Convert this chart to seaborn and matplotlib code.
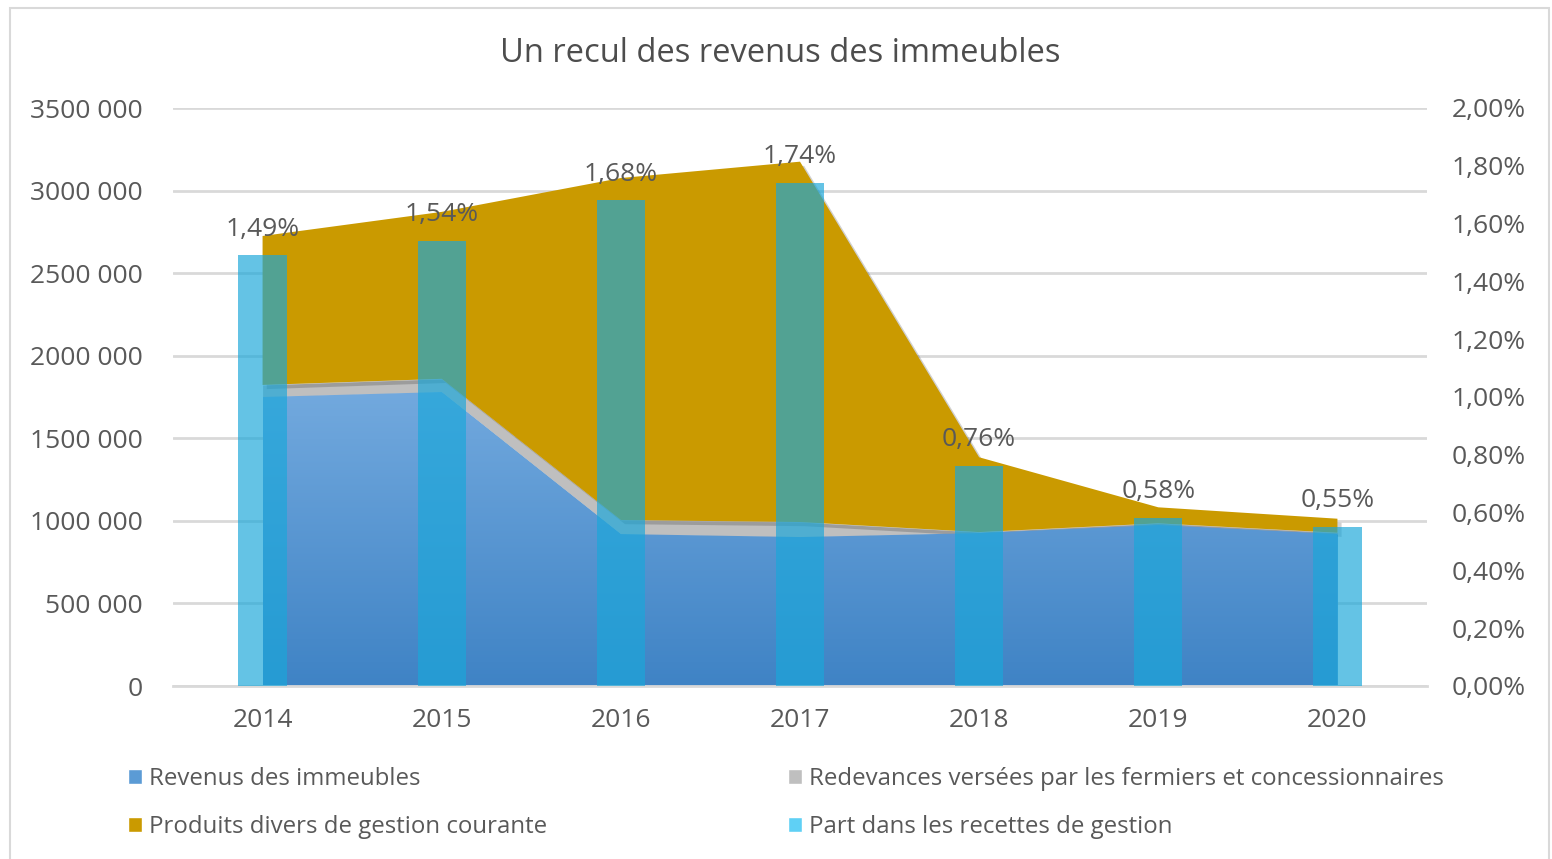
import numpy as np
import matplotlib
matplotlib.use("Agg")
import matplotlib.pyplot as plt
import matplotlib.patheffects as pe
from matplotlib.patches import Rectangle, Patch
from matplotlib.ticker import FuncFormatter, MultipleLocator
import seaborn as sns

# ---- data ----
years = ["2014", "2015", "2016", "2017", "2018", "2019", "2020"]
revenus_immeubles = [1750000, 1780000, 920000, 902000, 926000, 975000, 920000]
redevances = [73000, 80000, 85000, 91000, 6000, 10000, 8000]
produits_divers = [902000, 1011000, 2071000, 2182000, 453000, 97000, 85000]
part_recettes = [1.49, 1.54, 1.68, 1.74, 0.76, 0.58, 0.55]  # in %
part_labels = ["1,49%", "1,54%", "1,68%", "1,74%", "0,76%", "0,58%", "0,55%"]

series_names = ["Revenus des immeubles",
                "Redevances versées par les fermiers et concessionnaires",
                "Produits divers de gestion courante",
                "Part dans les recettes de gestion"]

C_BLUE = "#5B9BD5"
C_GREY = "#BFBFBF"
C_GOLD = "#CA9A00"
C_BAR = "#1AA7DA"
C_TEXT = "#595959"
C_GRID = "#D9D9D9"

sns.set_theme(style="white")
plt.rcParams["font.family"] = ["Open Sans", "DejaVu Sans"]

W, H = 1552, 859
fig = plt.figure(figsize=(W / 100, H / 100), dpi=100)
fig.patch.set_facecolor("white")

ax = fig.add_axes([173 / W, 1 - 686 / H, (1427 - 173) / W, (686 - 108) / H])
ax2 = ax.twinx()

x = np.arange(len(years))

# stacked areas
polys = ax.stackplot(x, revenus_immeubles, redevances, produits_divers,
                     colors=[C_BLUE, C_GREY, C_GOLD], linewidth=0, zorder=2)
polys[2].set_path_effects([pe.SimplePatchShadow(offset=(3, -3), alpha=0.18,
                                                shadow_rgbFace="black"), pe.Normal()])

# gradient on the blue area
top = max(revenus_immeubles)
grad = np.linspace(0, 1, 256).reshape(-1, 1)
cmap = matplotlib.colors.LinearSegmentedColormap.from_list("bl", ["#3F83C5", "#72A9DE"])
im = ax.imshow(grad, extent=[0, len(years) - 1, 0, top], origin="lower",
               aspect="auto", cmap=cmap, zorder=2.5)
im.set_clip_path(polys[0].get_paths()[0], ax.transData)

ax.set_xlim(-0.5, len(years) - 0.5)
ax.set_ylim(0, 3500000)
ax.yaxis.set_major_locator(MultipleLocator(500000))
ax.yaxis.set_major_formatter(FuncFormatter(
    lambda v, p: "0" if v == 0 else f"{int(v // 1000)} 000"))
ax.grid(axis="y", color=C_GRID, linewidth=2)
ax.grid(axis="x", visible=False)
ax.set_axisbelow(True)
for s in ["top", "right", "left"]:
    ax.spines[s].set_visible(False)
ax.spines["bottom"].set_color(C_GRID)
ax.spines["bottom"].set_linewidth(2)
ax.tick_params(axis="y", length=0, pad=22, labelsize=19, labelcolor=C_TEXT)
ax.tick_params(axis="x", length=0, pad=16, labelsize=19, labelcolor=C_TEXT)

# bars on secondary axis
sns.barplot(x=years, y=part_recettes, ax=ax2, color=C_BAR, alpha=0.68,
            width=0.27, saturation=1, linewidth=0, zorder=3)
ax2.set_ylim(0, 2.0)
ax2.set_xlim(-0.5, len(years) - 0.5)
ax2.yaxis.set_major_locator(MultipleLocator(0.2))
ax2.yaxis.set_major_formatter(FuncFormatter(lambda v, p: f"{v:.2f}%".replace(".", ",")))
ax2.tick_params(axis="y", length=0, pad=18, labelsize=19, labelcolor=C_TEXT)
for s in ["top", "right", "left", "bottom"]:
    ax2.spines[s].set_visible(False)
ax2.set_ylabel("")
ax2.set_xlabel("")
ax2.grid(False)
ax.set_xticks(x)
ax.set_xticklabels(years)

for xi, v, lab in zip(x, part_recettes, part_labels):
    ax2.annotate(lab, (xi, v), xytext=(0, 19), textcoords="offset points",
                 ha="center", va="center", fontsize=19, color=C_TEXT, zorder=5)

# title
fig.text(780 / W, 1 - 53 / H, "Un recul des revenus des immeubles",
         ha="center", va="center", fontsize=23.5, color="#4D4D4D")

# legends
handles = [Patch(facecolor=C_BLUE), Patch(facecolor=C_GREY),
           Patch(facecolor=C_GOLD), Patch(facecolor="#5FD0F5")]
leg_kw = dict(frameon=False, fontsize=17.3, handlelength=0.57, handleheight=0.57,
              handletextpad=0.3, labelspacing=1.0, borderpad=0, borderaxespad=0,
              labelcolor=C_TEXT, loc="center left")
fig.legend([handles[0], handles[2]], [series_names[0], series_names[2]],
           bbox_to_anchor=(128 / W, 1 - 803 / H), **leg_kw)
fig.legend([handles[1], handles[3]], [series_names[1], series_names[3]],
           bbox_to_anchor=(788 / W, 1 - 803 / H), **leg_kw)

# chart border
fig.add_artist(Rectangle((10 / W, -0.01), (1549 - 10) / W, (859 - 8) / H + 0.01,
                         transform=fig.transFigure, fill=False,
                         edgecolor=C_GRID, linewidth=1.5))

fig.savefig("out.png", dpi=100, facecolor="white")
